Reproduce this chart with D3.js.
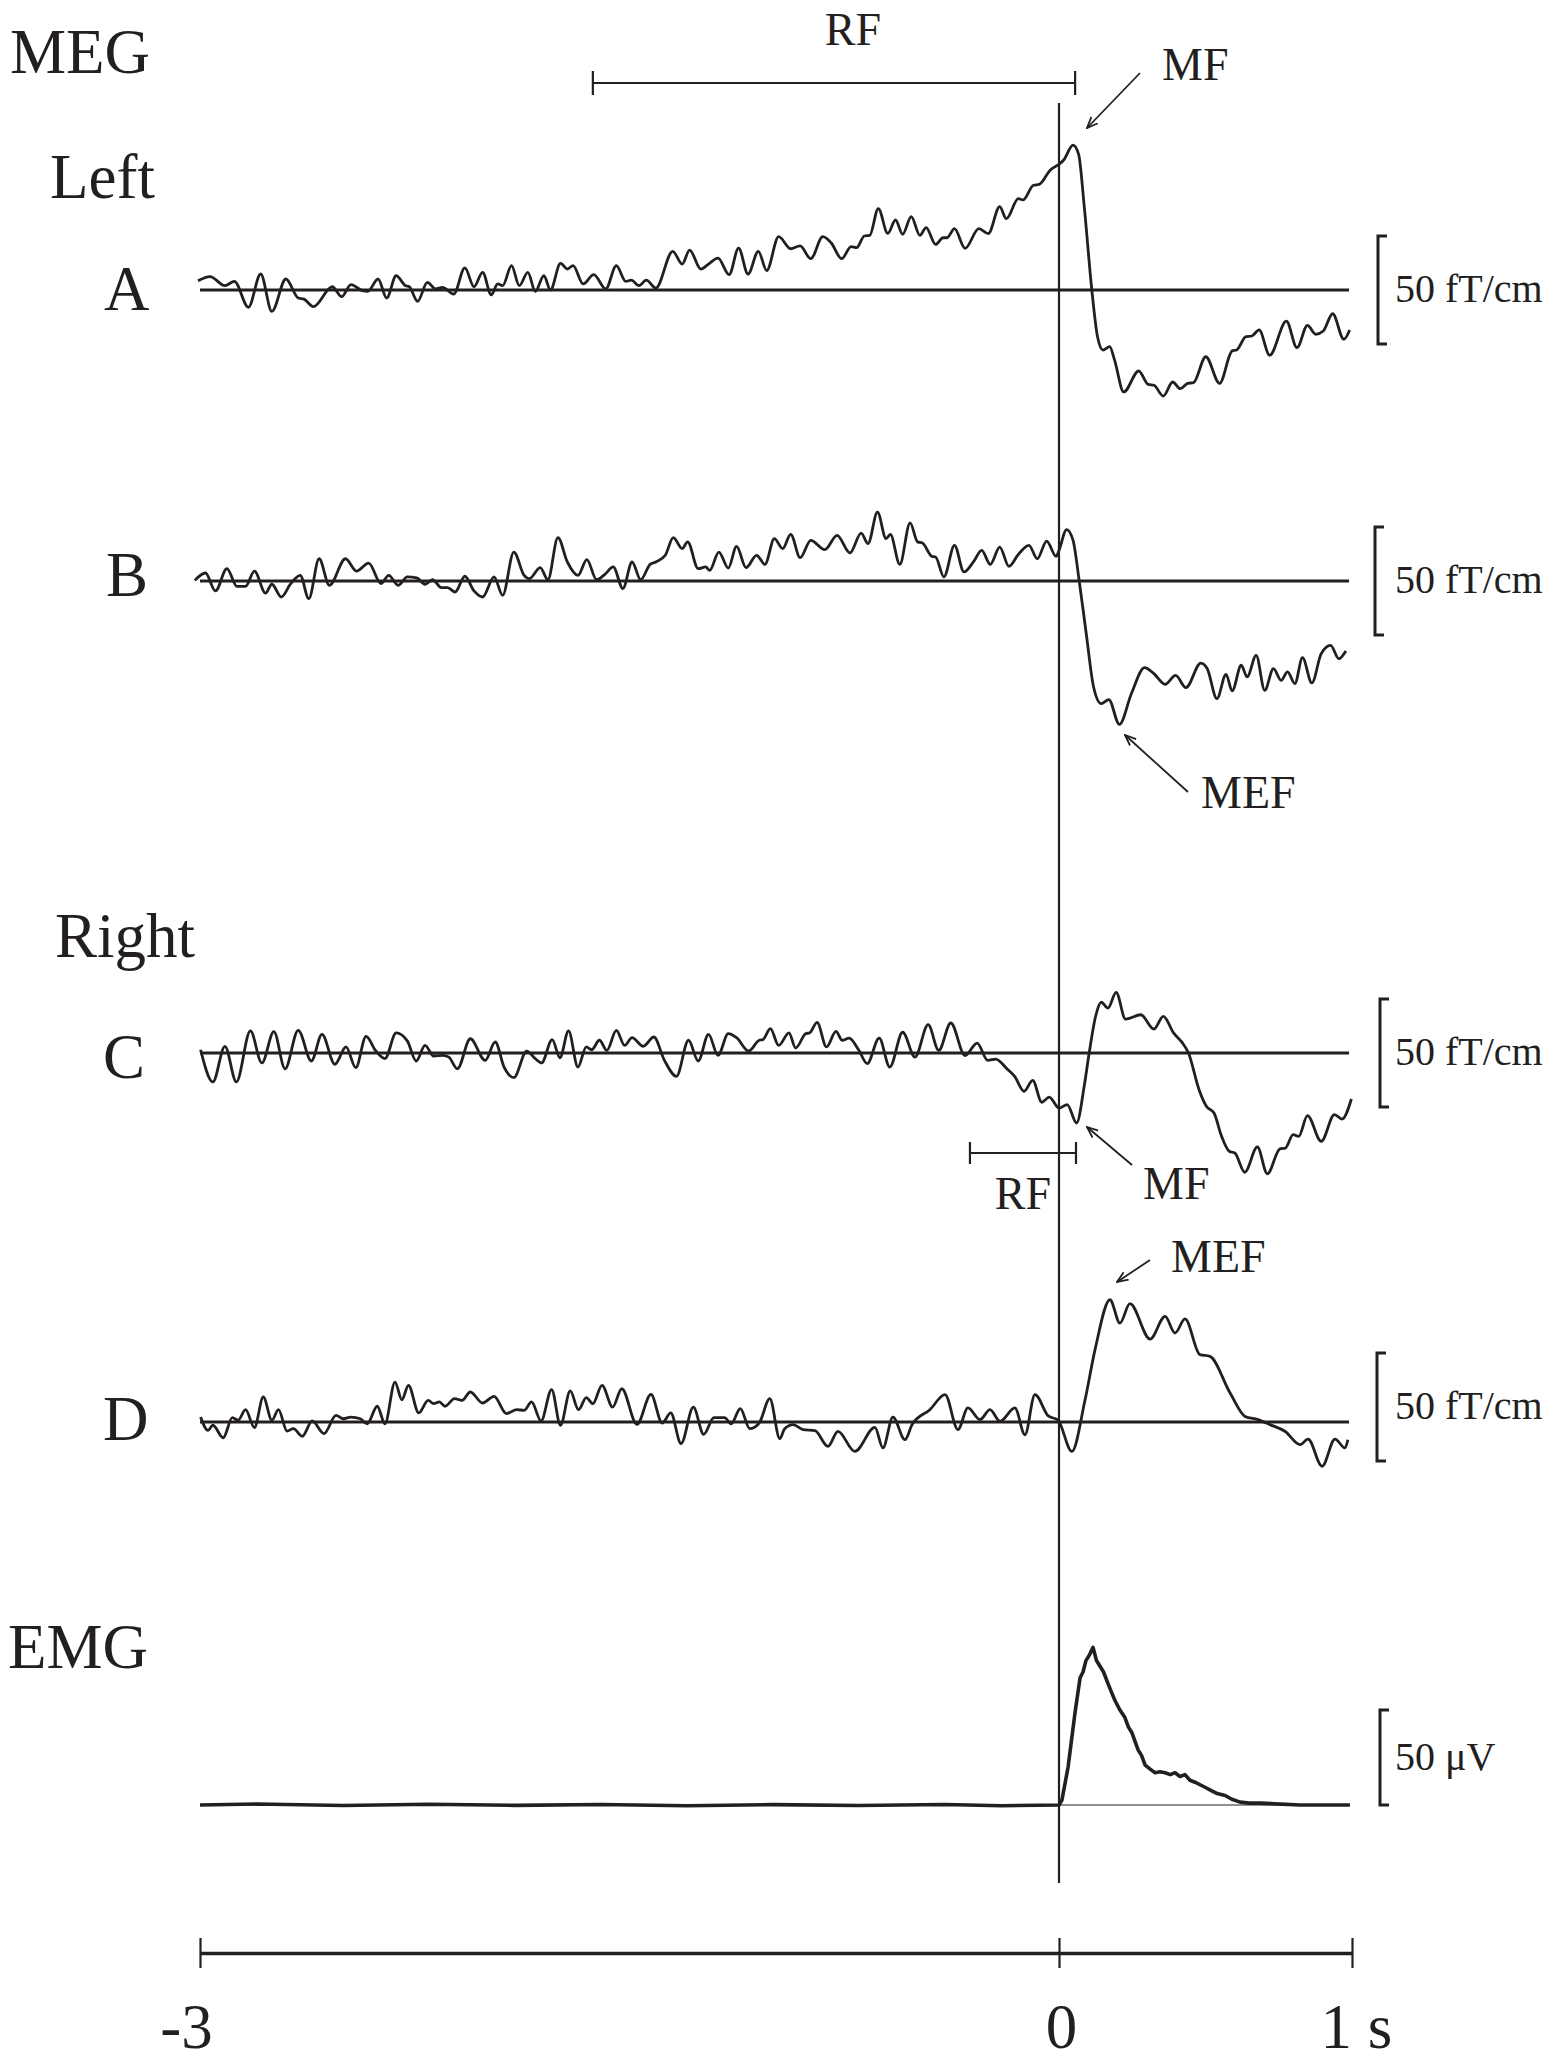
<!DOCTYPE html>
<html>
<head>
<meta charset="utf-8">
<script src="https://cdn.jsdelivr.net/npm/d3@7"></script>
<style>
body { margin: 0; background: #fff; }
svg text { font-family: "Liberation Serif", "Times New Roman", serif; fill: #231f20; }
</style>
</head>
<body>
<svg id="chart"></svg>
<script>
var width = 1568, height = 2063;
var ink = "#231f20";

// time in s (0 = movement onset), amplitude in fT/cm (EMG in uV)
var timeTicks = [-3, 0, 1];
var tickLabels = ["-3", "0", "1 s"];
var rfLeft = [-1.628, 0.055];
var rfRight = [-0.311, 0.058];

var traceA = [[-3.007,4.3],[-2.965,6.2],[-2.913,2.0],[-2.880,4.0],[-2.831,-8.0],[-2.788,7.4],[-2.749,-9.9],[-2.700,5.1],[-2.657,-3.7],[-2.637,-4.2],[-2.604,-7.7],[-2.538,1.5],[-2.505,-3.1],[-2.473,2.5],[-2.433,-0.3],[-2.414,-0.6],[-2.378,5.1],[-2.348,-3.7],[-2.315,6.6],[-2.282,2.0],[-2.269,1.5],[-2.240,-5.2],[-2.206,3.5],[-2.177,0.5],[-2.153,1.2],[-2.114,-1.9],[-2.075,10.2],[-2.043,1.5],[-2.013,8.2],[-1.983,-2.2],[-1.960,2.8],[-1.943,2.0],[-1.912,11.3],[-1.885,2.0],[-1.855,8.2],[-1.829,-0.6],[-1.799,6.6],[-1.776,0],[-1.741,12.3],[-1.717,9.7],[-1.697,11.3],[-1.662,2.8],[-1.625,7.1],[-1.583,0.5],[-1.546,11.3],[-1.513,4.0],[-1.494,4.6],[-1.467,2.0],[-1.441,4.6],[-1.408,0.9],[-1.349,17.9],[-1.316,12.0],[-1.290,18.5],[-1.251,9.7],[-1.224,12.0],[-1.191,14.8],[-1.152,7.1],[-1.119,19.4],[-1.086,7.4],[-1.050,17.9],[-1.021,9.0],[-0.979,24.7],[-0.937,19.1],[-0.904,20.4],[-0.867,14.5],[-0.825,24.7],[-0.796,21.9],[-0.759,14.5],[-0.726,20.1],[-0.707,19.6],[-0.680,25.0],[-0.661,25.3],[-0.631,37.7],[-0.598,26.2],[-0.571,32.4],[-0.546,25.8],[-0.516,34.0],[-0.486,25.3],[-0.464,28.9],[-0.431,21.1],[-0.405,24.2],[-0.391,24.2],[-0.365,28.4],[-0.328,19.3],[-0.280,28.4],[-0.247,26.1],[-0.207,38.6],[-0.184,33.0],[-0.142,42.3],[-0.126,41.7],[-0.089,48.5],[-0.069,48.9],[-0.030,55.6],[0.000,58.2],[0.016,60.2],[0.048,67.1],[0.067,62.8],[0.086,38.9],[0.112,0],[0.131,-21.3],[0.150,-27.8],[0.173,-26.2],[0.189,-32.1],[0.221,-47.2],[0.272,-37.5],[0.304,-43.7],[0.324,-44.1],[0.356,-49.1],[0.388,-42.6],[0.414,-45.7],[0.439,-43.2],[0.459,-42.9],[0.501,-30.9],[0.548,-43.2],[0.591,-28.2],[0.606,-27.8],[0.638,-21.6],[0.658,-21.3],[0.683,-18.5],[0.719,-30.2],[0.776,-14.4],[0.812,-26.7],[0.848,-16.4],[0.876,-20.5],[0.902,-19.0],[0.934,-11.0],[0.972,-22.8],[0.992,-18.5]];

var traceB = [[-3.018,0.3],[-2.981,3.7],[-2.946,-4.6],[-2.906,5.7],[-2.871,-2.5],[-2.841,-2.5],[-2.810,4.6],[-2.771,-5.6],[-2.749,-1.5],[-2.716,-7.4],[-2.683,-1.2],[-2.650,2.6],[-2.620,-8.2],[-2.584,10.3],[-2.548,-2.0],[-2.492,10.3],[-2.453,4.6],[-2.411,8.3],[-2.368,-1.2],[-2.341,2.6],[-2.308,-2.0],[-2.276,1.9],[-2.243,1.5],[-2.214,-1.5],[-2.188,0.6],[-2.157,-3.1],[-2.135,-3.1],[-2.109,-5.1],[-2.075,2.2],[-2.043,-4.6],[-2.013,-7.4],[-1.973,1.9],[-1.943,-6.6],[-1.904,13.4],[-1.868,2.6],[-1.849,1.1],[-1.812,6.2],[-1.785,0.6],[-1.750,20.1],[-1.717,8.8],[-1.680,2.6],[-1.649,9.9],[-1.615,0.6],[-1.586,3.1],[-1.557,6.5],[-1.523,-3.5],[-1.491,8.8],[-1.461,0.6],[-1.428,7.7],[-1.408,8.8],[-1.375,11.9],[-1.347,20.1],[-1.316,15.0],[-1.297,18.1],[-1.260,5.7],[-1.234,6.5],[-1.220,4.9],[-1.188,13.4],[-1.155,6.0],[-1.126,16.0],[-1.093,6.2],[-1.056,11.9],[-1.027,7.7],[-0.994,19.6],[-0.965,15.0],[-0.937,21.6],[-0.904,10.8],[-0.867,18.8],[-0.818,14.5],[-0.775,21.1],[-0.730,13.0],[-0.691,22.2],[-0.667,17.3],[-0.634,31.9],[-0.604,19.6],[-0.589,21.6],[-0.556,7.7],[-0.520,26.9],[-0.494,18.1],[-0.477,17.6],[-0.444,11.4],[-0.431,11.1],[-0.402,1.9],[-0.365,16.5],[-0.332,4.2],[-0.299,8.8],[-0.270,14.2],[-0.240,7.7],[-0.207,15.7],[-0.175,6.8],[-0.142,12.3],[-0.105,16.5],[-0.076,10.3],[-0.043,18.5],[-0.010,11.4],[0.000,14.2],[0.026,23.8],[0.048,18.8],[0.069,0],[0.093,-24.4],[0.118,-49.1],[0.144,-56.8],[0.170,-54.9],[0.206,-66.4],[0.247,-52.2],[0.292,-40.1],[0.324,-42.9],[0.362,-47.8],[0.398,-43.7],[0.433,-49.4],[0.484,-38.0],[0.506,-40.6],[0.539,-54.5],[0.570,-43.2],[0.591,-50.9],[0.622,-39.0],[0.642,-44.4],[0.673,-34.4],[0.702,-50.6],[0.732,-40.6],[0.758,-46.0],[0.780,-42.1],[0.805,-47.5],[0.831,-35.5],[0.863,-47.2],[0.895,-33.6],[0.927,-29.8],[0.955,-36.0],[0.979,-32.4]];

var traceC = [[-2.998,1.5],[-2.955,-13.4],[-2.913,3.1],[-2.873,-13.4],[-2.824,10.2],[-2.784,-4.6],[-2.742,9.9],[-2.703,-7.3],[-2.657,10.5],[-2.611,-3.7],[-2.574,8.6],[-2.529,-5.2],[-2.490,2.8],[-2.456,-6.8],[-2.420,7.7],[-2.387,1.2],[-2.354,-2.6],[-2.315,9.3],[-2.276,5.6],[-2.245,-3.7],[-2.214,3.5],[-2.184,-1.4],[-2.151,-1.1],[-2.131,-1.9],[-2.101,-7.3],[-2.056,6.6],[-2.004,-3.4],[-1.969,5.1],[-1.938,-6.5],[-1.904,-11.4],[-1.859,0.9],[-1.829,-2.6],[-1.807,-4.6],[-1.770,6.2],[-1.743,-2.2],[-1.713,10.2],[-1.680,-6.5],[-1.651,2.8],[-1.632,1.5],[-1.605,5.9],[-1.579,1.2],[-1.546,10.5],[-1.517,3.5],[-1.491,7.1],[-1.452,3.1],[-1.415,7.4],[-1.378,-3.4],[-1.336,-10.8],[-1.294,5.9],[-1.260,-3.7],[-1.224,8.6],[-1.191,-1.1],[-1.155,9.0],[-1.126,7.1],[-1.084,0.9],[-1.047,5.9],[-1.034,6.2],[-1.008,11.3],[-0.979,3.5],[-0.943,9.3],[-0.920,2.3],[-0.884,9.0],[-0.871,9.3],[-0.845,14.2],[-0.812,2.8],[-0.779,10.0],[-0.757,5.9],[-0.733,6.9],[-0.700,1.5],[-0.670,-4.9],[-0.628,6.9],[-0.591,-6.5],[-0.546,9.6],[-0.503,-1.9],[-0.457,13.1],[-0.420,1.2],[-0.378,13.9],[-0.328,-1.2],[-0.286,4.6],[-0.249,-3.4],[-0.221,-2.8],[-0.181,-7.4],[-0.155,-10.8],[-0.122,-17.7],[-0.092,-12.7],[-0.060,-22.8],[-0.034,-20.4],[0.000,-25.5],[0.028,-23.9],[0.060,-32.4],[0.086,-15.4],[0.103,0],[0.125,17.0],[0.144,23.5],[0.167,20.8],[0.195,28.1],[0.227,15.7],[0.279,17.7],[0.324,11.1],[0.356,17.0],[0.391,9.3],[0.420,4.9],[0.442,0],[0.478,-17.0],[0.503,-24.7],[0.529,-27.8],[0.555,-38.6],[0.581,-45.5],[0.600,-46.3],[0.634,-55.2],[0.677,-43.5],[0.711,-55.9],[0.754,-44.4],[0.773,-44.0],[0.799,-37.8],[0.818,-38.6],[0.848,-29.0],[0.895,-40.9],[0.940,-28.5],[0.966,-30.6],[0.998,-21.3]];

var traceD = [[-2.998,2.3],[-2.972,-3.9],[-2.955,-1.5],[-2.919,-7.3],[-2.887,2.0],[-2.867,0.8],[-2.841,5.7],[-2.810,-2.6],[-2.779,11.6],[-2.749,0.8],[-2.726,5.7],[-2.696,-4.2],[-2.674,-3.1],[-2.643,-6.6],[-2.608,0.5],[-2.567,-5.4],[-2.525,3.1],[-2.499,1.5],[-2.473,2.3],[-2.440,1.5],[-2.416,-0.8],[-2.381,7.3],[-2.354,-0.8],[-2.319,18.5],[-2.295,10.3],[-2.272,17.0],[-2.236,4.2],[-2.203,10.0],[-2.184,8.5],[-2.164,9.3],[-2.144,7.3],[-2.111,10.8],[-2.085,10.0],[-2.056,13.9],[-2.013,8.8],[-1.973,11.9],[-1.930,3.9],[-1.894,5.7],[-1.868,5.4],[-1.842,9.3],[-1.809,0.5],[-1.772,15.0],[-1.741,-1.5],[-1.707,14.4],[-1.678,5.7],[-1.651,11.3],[-1.628,8.5],[-1.596,17.0],[-1.559,6.9],[-1.527,15.4],[-1.474,-1.1],[-1.425,12.8],[-1.386,-0.5],[-1.356,4.2],[-1.320,-10.0],[-1.277,6.9],[-1.241,-5.7],[-1.205,2.0],[-1.168,2.0],[-1.145,-0.8],[-1.113,6.2],[-1.080,-3.1],[-1.047,-0.5],[-1.010,10.8],[-0.975,-7.7],[-0.958,-3.1],[-0.929,-1.2],[-0.894,-3.5],[-0.852,-4.0],[-0.807,-11.3],[-0.772,-4.3],[-0.713,-13.6],[-0.643,-2.5],[-0.615,-12.0],[-0.580,2.3],[-0.538,-8.2],[-0.513,-1.2],[-0.451,5.7],[-0.398,12.7],[-0.353,-3.5],[-0.318,6.5],[-0.276,1.1],[-0.241,5.7],[-0.206,0.3],[-0.154,6.5],[-0.119,-5.9],[-0.084,12.7],[-0.038,2.9],[-0.003,0.8],[0.044,-13.6],[0.089,10.3],[0.123,33.5],[0.174,56.6],[0.208,45.8],[0.242,54.8],[0.311,38.4],[0.362,48.9],[0.396,41.2],[0.430,47.7],[0.481,31.2],[0.515,30.4],[0.584,13.4],[0.635,2.6],[0.679,1.1],[0.720,-1.2],[0.771,-4.3],[0.823,-10.5],[0.850,-7.9],[0.898,-20.5],[0.942,-7.9],[0.976,-12.0],[0.986,-8.2]];

var traceEMG = [[-3.000,0],[-2.800,0.5],[-2.500,-0.3],[-2.200,0.4],[-1.900,-0.2],[-1.600,0.3],[-1.300,-0.4],[-1.000,0.2],[-0.700,-0.3],[-0.400,0.3],[-0.200,-0.4],[0.000,0],[0.010,2.6],[0.031,20],[0.055,49],[0.072,67],[0.082,70],[0.092,76],[0.104,79],[0.116,83],[0.128,76],[0.140,73],[0.152,70],[0.167,64],[0.180,59],[0.191,55],[0.208,50],[0.225,46],[0.237,41],[0.249,38],[0.270,29],[0.282,26],[0.294,21],[0.310,19],[0.328,17],[0.345,17.5],[0.362,17],[0.380,16],[0.396,17],[0.413,15],[0.430,16],[0.447,13],[0.464,12],[0.490,10],[0.515,8],[0.540,6],[0.567,5],[0.590,3],[0.618,1.5],[0.650,1],[0.686,1],[0.823,0],[0.993,0]];

var xScale = d3.scaleLinear()
               .domain([-3, 0, 1])
               .range([200, 1059, 1352]);

var channels = [
  {data: traceA, base: 290,  px: 108, bar: [-25, 25], barX: 1378, unit: "50 fT/cm", width: 2.8},
  {data: traceB, base: 581,  px: 108, bar: [-25, 25], barX: 1375, unit: "50 fT/cm", width: 2.8},
  {data: traceC, base: 1053, px: 108, bar: [-25, 25], barX: 1380, unit: "50 fT/cm", width: 2.8},
  {data: traceD, base: 1422, px: 108, bar: [-18, 32], barX: 1377, unit: "50 fT/cm", width: 2.8},
  {data: traceEMG, base: 1805, px: 95, bar: [0, 50], barX: 1380, unit: "50 \u03bcV", width: 3.6}
];

var svg = d3.select("#chart")
            .attr("width", width)
            .attr("height", height);

var defs = svg.append("defs");
defs.append("marker")
    .attr("id", "head")
    .attr("viewBox", "0 -6 12 12")
    .attr("refX", 11)
    .attr("refY", 0)
    .attr("markerWidth", 12)
    .attr("markerHeight", 12)
    .attr("markerUnits", "userSpaceOnUse")
    .attr("orient", "auto")
  .append("path")
    .attr("d", "M0,-4.5L11,0L0,4.5")
    .attr("fill", "none")
    .attr("stroke", ink)
    .attr("stroke-width", 1.8);

// zero line
svg.append("line")
   .attr("x1", xScale(0)).attr("x2", xScale(0))
   .attr("y1", 103).attr("y2", 1883)
   .attr("stroke", ink)
   .attr("stroke-width", 2.2);

channels.forEach(function(ch, i) {
  var yScale = d3.scaleLinear()
                 .domain([0, 50])
                 .range([ch.base, ch.base - ch.px]);
  var isEMG = (i == 4);

  svg.append("line")
     .attr("x1", xScale(-3)).attr("x2", xScale(0.99))
     .attr("y1", yScale(0)).attr("y2", yScale(0))
     .attr("stroke", isEMG ? "#6d6d6d" : ink)
     .attr("stroke-width", isEMG ? 1.3 : 3);

  var line = d3.line()
               .x(d => xScale(d[0]))
               .y(d => yScale(d[1]))
               .curve(isEMG ? d3.curveLinear : d3.curveMonotoneX);

  svg.append("path")
     .datum(ch.data)
     .attr("d", line)
     .attr("fill", "none")
     .attr("stroke", ink)
     .attr("stroke-width", ch.width)
     .attr("stroke-linejoin", "round");

  var y0 = yScale(ch.bar[0]), y1 = yScale(ch.bar[1]);
  svg.append("path")
     .attr("d", "M" + (ch.barX + 9) + "," + y1 + "H" + ch.barX + "V" + y0 + "H" + (ch.barX + 9))
     .attr("fill", "none")
     .attr("stroke", ink)
     .attr("stroke-width", 3);

  svg.append("text")
     .attr("x", 1395)
     .attr("y", (y0 + y1) / 2 + 12)
     .text(ch.unit)
     .style("font-size", "40px");
});

// time axis
var xAxis = d3.axisBottom(xScale)
              .tickValues(timeTicks)
              .tickSizeOuter(0)
              .tickSize(0)
              .tickFormat((d, i) => tickLabels[i]);

var axisG = svg.append("g")
               .attr("transform", "translate(0,1953)")
               .call(xAxis);
axisG.select(".domain")
     .attr("stroke", ink)
     .attr("stroke-width", 3.5);
axisG.selectAll(".tick line")
     .attr("y1", -15).attr("y2", 15)
     .attr("stroke", ink)
     .attr("stroke-width", 2.2);
axisG.selectAll(".tick text")
     .attr("y", 95)
     .attr("dy", 0)
     .attr("fill", ink)
     .attr("font-family", "Liberation Serif, serif")
     .attr("font-size", 63)
     .attr("text-anchor", (d, i) => i == 2 ? "start" : "middle")
     .attr("dx", (d, i) => [-14, 2, -32][i]);

// RF intervals
function interval(range, y, tick) {
  var x0 = xScale(range[0]), x1 = xScale(range[1]);
  svg.append("path")
     .attr("d", "M" + x0 + "," + (y - tick) + "V" + (y + tick) + "M" + x0 + "," + y + "H" + x1 +
                "M" + x1 + "," + (y - tick) + "V" + (y + tick))
     .attr("fill", "none")
     .attr("stroke", ink)
     .attr("stroke-width", 2.2);
}
interval(rfLeft, 83, 12);
interval(rfRight, 1153, 11);

// arrows
var arrows = [[1140, 73, 1087, 128], [1188, 792, 1125, 735], [1132, 1165, 1087, 1127], [1150, 1260, 1117, 1282]];
arrows.forEach(function(a) {
  svg.append("line")
     .attr("x1", a[0]).attr("y1", a[1])
     .attr("x2", a[2]).attr("y2", a[3])
     .attr("stroke", ink)
     .attr("stroke-width", 1.8)
     .attr("marker-end", "url(#head)");
});

var bigLabels = [["MEG", 10, 73], ["Left", 50, 198], ["A", 104, 310], ["B", 106, 596],
                 ["Right", 55, 957], ["C", 103, 1078], ["D", 103, 1440], ["EMG", 8, 1668]];
bigLabels.forEach(function(l) {
  svg.append("text")
     .attr("x", l[1]).attr("y", l[2])
     .text(l[0])
     .style("font-size", "63px");
});

var smallLabels = [["RF", 853, 45, "middle"], ["MF", 1162, 80, "start"], ["MEF", 1201, 808, "start"],
                   ["RF", 1023, 1209, "middle"], ["MF", 1143, 1199, "start"], ["MEF", 1171, 1272, "start"]];
smallLabels.forEach(function(l) {
  svg.append("text")
     .attr("x", l[1]).attr("y", l[2])
     .attr("text-anchor", l[3])
     .text(l[0])
     .style("font-size", "46px");
});
</script>
</body>
</html>
